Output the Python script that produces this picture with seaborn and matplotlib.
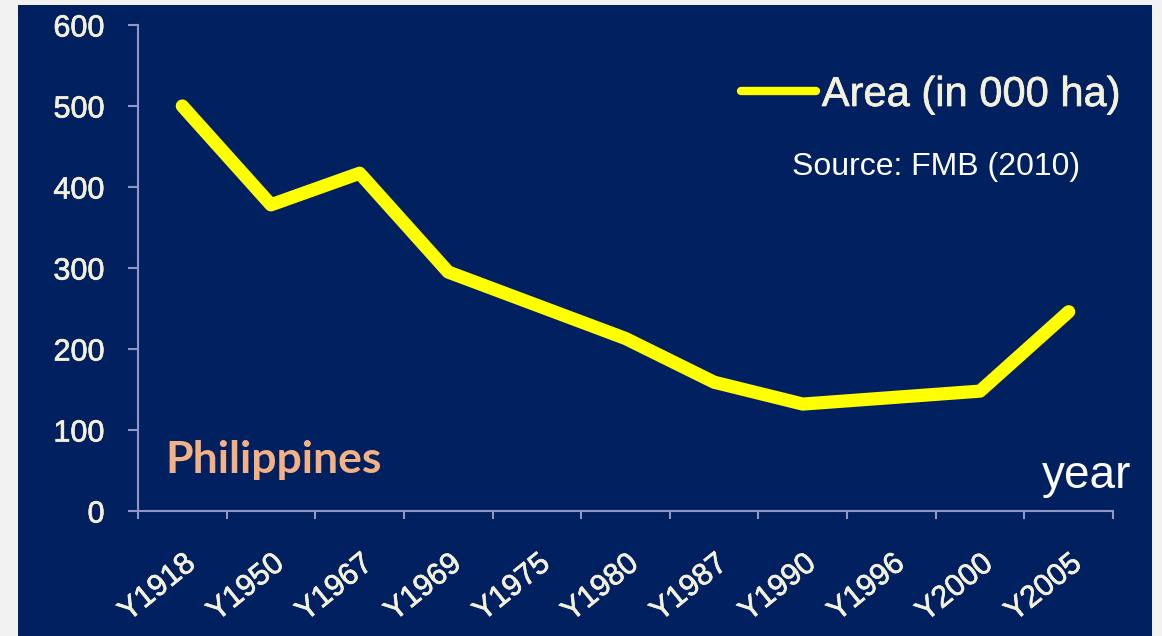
import numpy as np
import matplotlib
matplotlib.use("Agg")
import matplotlib.pyplot as plt
import matplotlib.transforms as mtransforms
import matplotlib.patheffects as pe
from matplotlib.patches import Rectangle
import seaborn as sns
import pandas as pd

# Data
years = ["Y1918", "Y1950", "Y1967", "Y1969", "Y1975", "Y1980",
         "Y1987", "Y1990", "Y1996", "Y2000", "Y2005"]
area = [500, 378, 417, 295, 254, 213, 159, 132, 140, 148, 246]
y_ticks = [0, 100, 200, 300, 400, 500, 600]

navy = "#002060"
cream = "#f3f1dc"
axis_col = "#8e97c6"

sns.set_style("white")
plt.rcParams["font.family"] = ["Liberation Sans", "DejaVu Sans"]

df = pd.DataFrame({"year": years, "area": area})

fig = plt.figure(figsize=(11.62, 6.36), dpi=100)
fig.patch.set_facecolor("#f2f2f2")
fig.add_artist(Rectangle((18 / 1162, 0), (1152 - 18) / 1162, 631 / 636,
                         transform=fig.transFigure, facecolor=navy,
                         edgecolor="none", zorder=0))

ax = fig.add_axes([138 / 1162, 125 / 636, 975 / 1162, 486 / 636])
ax.set_facecolor(navy)

sns.lineplot(data=df, x="year", y="area", ax=ax, color="#ffff00",
             linewidth=9.5, label="Area (in 000 ha)", sort=False)
for ln in ax.lines:
    ln.set_solid_capstyle("round")
    ln.set_solid_joinstyle("round")

ax.set_xlim(-0.5, len(years) - 0.5)
ax.set_ylim(0, 600)
ax.set_yticks(y_ticks)
ax.set_yticklabels([str(v) for v in y_ticks])

# category ticks between points, labels centred on points
ax.set_xticks(np.arange(-0.5, len(years)))
ax.set_xticklabels([])
ax.set_xticks(np.arange(len(years)), minor=True)
ax.set_xticklabels(years, minor=True, rotation=39, ha="right", va="top",
                   rotation_mode="anchor")
shift = mtransforms.ScaledTranslation(1 / 72, 0, fig.dpi_scale_trans)
for lab in ax.get_xticklabels(minor=True):
    lab.set_transform(lab.get_transform() + shift)

ax.tick_params(axis="x", which="major", direction="out", length=6,
               width=1.5, color=axis_col, bottom=True)
ax.tick_params(axis="x", which="minor", length=0, pad=27,
               labelsize=22, labelcolor=cream)
ax.tick_params(axis="y", direction="out", length=7, width=1.5,
               color=axis_col, left=True, pad=17, labelsize=22,
               labelcolor=cream)

halo = [pe.withStroke(linewidth=0.5, foreground=cream)]
for lab in ax.get_xticklabels(minor=True) + ax.get_yticklabels():
    lab.set_path_effects(halo)

for side in ["top", "right"]:
    ax.spines[side].set_visible(False)
for side in ["left", "bottom"]:
    ax.spines[side].set_color(axis_col)
    ax.spines[side].set_linewidth(1.5)

ax.set_xlabel("")
ax.set_ylabel("")

leg = ax.legend(loc="center left", bbox_to_anchor=(0.618, 0.856),
                frameon=False, fontsize=30, borderpad=0,
                handlelength=1.8, handletextpad=0.15, borderaxespad=0)
for t in leg.get_texts():
    t.set_color(cream)
    t.set_path_effects(halo)
for h in leg.legend_handles:
    h.set_linewidth(6)

ax.text(0.966, 0.691, "Source: FMB (2010)", transform=ax.transAxes,
        ha="right", va="baseline", fontsize=23, color="white")
ax.text(1.019, 0.047, "year", transform=ax.transAxes, ha="right",
        va="baseline", fontsize=33, color="white", clip_on=False)
ax.text(0.028, 0.078, "Philippines", transform=ax.transAxes, ha="left",
        va="baseline", fontsize=32, fontweight="bold", color="#f4b183",
        family=["Lato", "DejaVu Sans"])

fig.savefig("out.png", dpi=100, facecolor=fig.get_facecolor())
